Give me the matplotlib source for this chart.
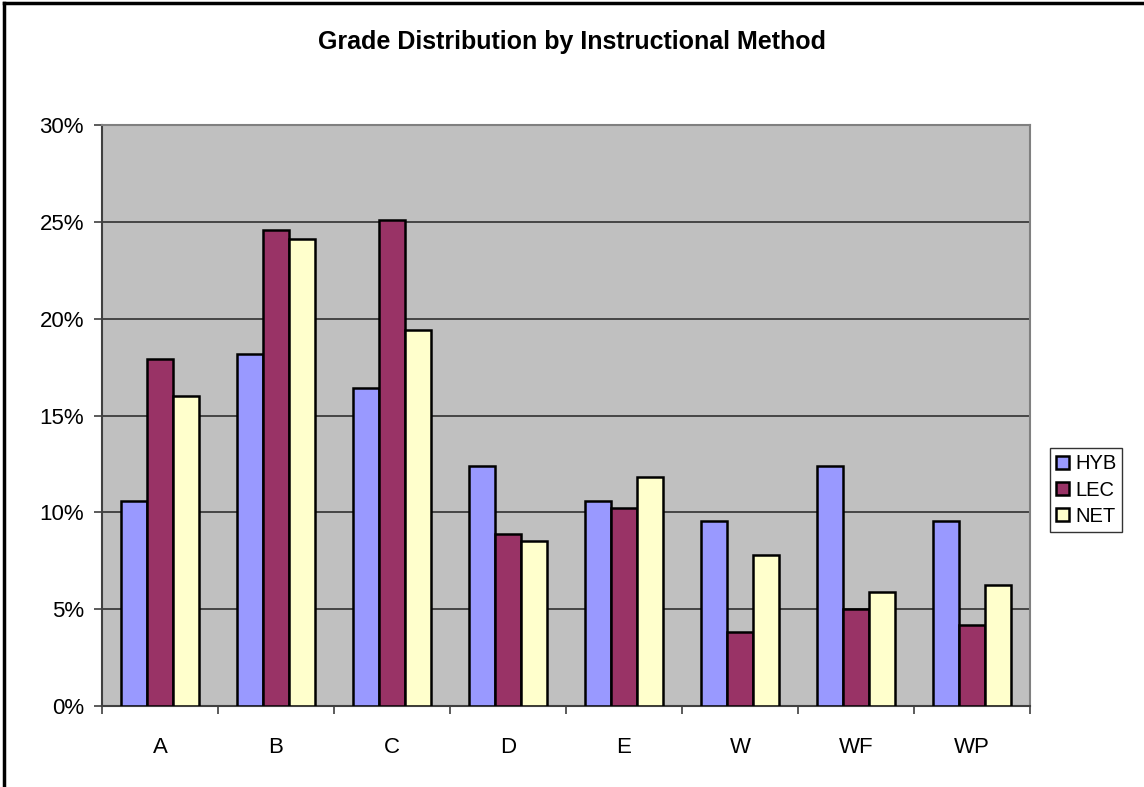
import matplotlib
matplotlib.use("Agg")
import matplotlib.pyplot as plt
import numpy as np
from matplotlib.lines import Line2D
from matplotlib.ticker import FuncFormatter, FixedLocator

categories = ["A", "B", "C", "D", "E", "W", "WF", "WP"]
series_names = ["HYB", "LEC", "NET"]
hyb = [10.6, 18.2, 16.4, 12.4, 10.6, 9.55, 12.4, 9.55]
lec = [17.9, 24.6, 25.1, 8.9, 10.2, 3.8, 5.0, 4.2]
net = [16.0, 24.1, 19.4, 8.5, 11.8, 7.8, 5.9, 6.25]
colors = ["#9999FF", "#993366", "#FFFFCC"]
yticks = [0, 5, 10, 15, 20, 25, 30]

plt.rcParams['font.family'] = ['Liberation Sans', 'DejaVu Sans']

W, H = 1144, 787
fig = plt.figure(figsize=(W / 100, H / 100), dpi=100)
fig.patch.set_facecolor("white")
ax = fig.add_axes([102 / W, 1 - 706 / H, (1030 - 102) / W, (706 - 125) / H])
ax.set_facecolor("#C0C0C0")

x = np.arange(len(categories))
bw = 26 / 116
for i, (vals, c, name) in enumerate(zip([hyb, lec, net], colors, series_names)):
    ax.bar(x + (i - 1) * bw, vals, width=bw, color=c, edgecolor="black",
           linewidth=1.8, label=name, zorder=3)

ax.set_xlim(-0.5, len(categories) - 0.5)
ax.set_ylim(0, 30)
ax.yaxis.set_major_locator(FixedLocator(yticks))
ax.yaxis.set_major_formatter(FuncFormatter(lambda v, p: f"{v:.0f}%"))
ax.grid(axis="y", color="#303030", linewidth=1.2, zorder=1)
ax.set_axisbelow(True)

ax.set_xticks(x)
ax.set_xticklabels(categories)
ax.set_xticks(np.arange(-0.5, len(categories)), minor=True)
ax.tick_params(axis="x", which="major", length=0, pad=22, labelsize=16)
ax.tick_params(axis="x", which="minor", length=6, width=1.2, color="#404040", direction="out")
ax.tick_params(axis="y", length=6, width=1.2, color="#404040", pad=7, labelsize=16)

for s in ["left", "bottom"]:
    ax.spines[s].set_color("#404040")
    ax.spines[s].set_linewidth(1.5)
for s in ["top", "right"]:
    ax.spines[s].set_color("#808080")
    ax.spines[s].set_linewidth(1.5)

fig.text(572 / W, 1 - 42 / H, "Grade Distribution by Instructional Method",
         ha="center", va="center", fontsize=18, fontweight="bold")

leg = fig.legend(loc="center left", bbox_to_anchor=(1050 / W, 1 - 490 / H),
                 frameon=True, fancybox=False, edgecolor="black", fontsize=14.5,
                 handlelength=0.65, handleheight=0.65, handletextpad=0.3,
                 labelspacing=0.35, borderpad=0.3, borderaxespad=0)
leg.get_frame().set_linewidth(1.0)

# outer chart-area border (top and left visible)
fig.add_artist(Line2D([4 / W, 4 / W], [0, 1 - 3 / H], transform=fig.transFigure,
                      color="black", linewidth=2.5))
fig.add_artist(Line2D([4 / W, 1], [1 - 3 / H, 1 - 3 / H], transform=fig.transFigure,
                      color="black", linewidth=2.5))

fig.savefig("out.png", dpi=100, facecolor="white")
